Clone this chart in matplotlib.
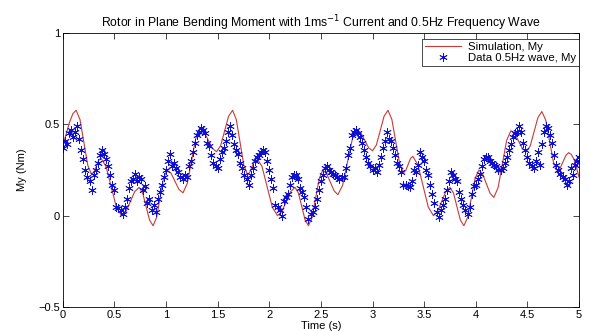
import matplotlib
matplotlib.use('Agg')
import matplotlib.pyplot as plt
import numpy as np

plt.rcParams['font.family'] = ['Liberation Sans', 'DejaVu Sans']

# simulation curve
sim_t = [0.00, 0.03, 0.065, 0.10,
         0.13, 0.1675, 0.205, 0.2425,
         0.28, 0.3025, 0.325, 0.3475,
         0.37, 0.42, 0.47, 0.52,
         0.57, 0.6125, 0.655, 0.6975,
         0.74, 0.774, 0.8075, 0.841,
         0.875, 0.909, 0.9425, 0.976,
         1.01, 1.049, 1.0875, 1.126,
         1.165, 1.206, 1.2475, 1.289,
         1.33, 1.37, 1.41, 1.45,
         1.49, 1.529, 1.5675, 1.606,
         1.645, 1.681, 1.7175, 1.754,
         1.79, 1.8125, 1.835, 1.8575,
         1.88, 1.93, 1.98, 2.03,
         2.08, 2.1225, 2.165, 2.2075,
         2.25, 2.2825, 2.315, 2.3475,
         2.38, 2.415, 2.45, 2.485,
         2.52, 2.556, 2.5925, 2.629,
         2.665, 2.711, 2.7575, 2.804,
         2.85, 2.8875, 2.925, 2.9625,
         3.00, 3.0375, 3.075, 3.1125,
         3.15, 3.1875, 3.225, 3.2625,
         3.30, 3.3225, 3.345, 3.3675,
         3.39, 3.44, 3.49, 3.54,
         3.59, 3.63, 3.67, 3.71,
         3.75, 3.784, 3.8175, 3.851,
         3.885, 3.921, 3.9575, 3.994,
         4.03, 4.066, 4.1025, 4.139,
         4.175, 4.216, 4.2575, 4.299,
         4.34, 4.3775, 4.415, 4.4525,
         4.49, 4.5275, 4.565, 4.6025,
         4.64, 4.6775, 4.715, 4.7525,
         4.79, 4.8175, 4.845, 4.8725,
         4.90, 4.925, 4.95, 4.975, 5.00]
sim_y = [0.385, 0.44, 0.51, 0.56,
         0.577, 0.526, 0.401, 0.276,
         0.225, 0.238, 0.27, 0.302,
         0.315, 0.269, 0.158, 0.046,
         0.0, 0.023, 0.078, 0.132,
         0.155, 0.124, 0.05, -0.024,
         -0.055, -0.010, 0.0975, 0.205,
         0.25, 0.232, 0.1875, 0.143,
         0.125, 0.176, 0.30, 0.424,
         0.475, 0.457, 0.4125, 0.368,
         0.35, 0.383, 0.4635, 0.544,
         0.577, 0.526, 0.401, 0.276,
         0.225, 0.238, 0.27, 0.302,
         0.315, 0.269, 0.158, 0.046,
         0.0, 0.023, 0.078, 0.132,
         0.155, 0.124, 0.05, -0.024,
         -0.055, -0.010, 0.0975, 0.205,
         0.25, 0.230, 0.1825, 0.135,
         0.115, 0.167, 0.2925, 0.418,
         0.47, 0.453, 0.4125, 0.372,
         0.355, 0.387, 0.466, 0.545,
         0.577, 0.527, 0.406, 0.285,
         0.235, 0.248, 0.28, 0.312,
         0.325, 0.278, 0.1625, 0.047,
         0.0, 0.023, 0.078, 0.132,
         0.155, 0.124, 0.05, -0.024,
         -0.055, -0.010, 0.0975, 0.205,
         0.25, 0.228, 0.175, 0.122,
         0.10, 0.153, 0.2825, 0.412,
         0.465, 0.448, 0.4075, 0.367,
         0.35, 0.382, 0.46, 0.538,
         0.57, 0.523, 0.4075, 0.292,
         0.245, 0.260, 0.295, 0.330,
         0.345, 0.335, 0.31, 0.265, 0.21]

# measured data, sampled every 0.02 s
data_dt = 0.02
data_y = [0.37, 0.41, 0.39, 0.45, 0.47, 0.43, 0.46, 0.49, 0.42, 0.36,
          0.31, 0.25, 0.21, 0.19, 0.14, 0.22, 0.25, 0.29, 0.33, 0.36,
          0.34, 0.31, 0.27, 0.22, 0.17, 0.14, 0.05, 0.04, 0.03, 0.01,
          0.05, 0.09, 0.15, 0.19, 0.20, 0.23, 0.19, 0.21, 0.20, 0.14,
          0.16, 0.07, 0.09, 0.03, 0.06, 0.02, 0.09, 0.13, 0.17, 0.21,
          0.25, 0.30, 0.34, 0.27, 0.29, 0.26, 0.24, 0.21, 0.20, 0.22,
          0.21, 0.27, 0.30, 0.35, 0.40, 0.44, 0.46, 0.48, 0.47, 0.45,
          0.40, 0.38, 0.33, 0.29, 0.27, 0.26, 0.31, 0.35, 0.37, 0.41,
          0.46, 0.49, 0.44, 0.39, 0.36, 0.34, 0.29, 0.26, 0.22, 0.20,
          0.17, 0.22, 0.26, 0.30, 0.32, 0.33, 0.35, 0.36, 0.35, 0.30,
          0.25, 0.20, 0.15, 0.06, 0.05, 0.03, 0.00, 0.08, 0.10, 0.12,
          0.17, 0.21, 0.22, 0.22, 0.20, 0.15, 0.13, 0.10, 0.05, -0.02,
          0.01, 0.02, 0.05, 0.09, 0.14, 0.19, 0.22, 0.26, 0.27, 0.25,
          0.24, 0.23, 0.22, 0.21, 0.20, 0.21, 0.21, 0.26, 0.33, 0.37,
          0.44, 0.46, 0.47, 0.45, 0.43, 0.40, 0.36, 0.32, 0.29, 0.27,
          0.25, 0.26, 0.24, 0.28, 0.32, 0.37, 0.41, 0.46, 0.42, 0.41,
          0.37, 0.33, 0.29, 0.27, 0.24, 0.17, 0.17, 0.16, 0.155, 0.19,
          0.25, 0.24, 0.28, 0.35, 0.32, 0.30, 0.25, 0.22, 0.17, 0.12,
          0.07, 0.02, -0.01, 0.03, 0.06, 0.09, 0.14, 0.19, 0.24, 0.22,
          0.20, 0.19, 0.13, 0.09, 0.06, 0.03, 0.01, 0.05, 0.12, 0.16,
          0.17, 0.20, 0.23, 0.27, 0.31, 0.32, 0.32, 0.30, 0.29, 0.28,
          0.27, 0.25, 0.25, 0.26, 0.29, 0.32, 0.36, 0.39, 0.43, 0.45,
          0.46, 0.49, 0.46, 0.40, 0.36, 0.32, 0.29, 0.27, 0.26, 0.30,
          0.35, 0.28, 0.39, 0.46, 0.49, 0.48, 0.44, 0.40, 0.33, 0.28,
          0.25, 0.23, 0.21, 0.20, 0.17, 0.19, 0.26, 0.22, 0.28, 0.30,
          0.32]
data_t = np.arange(len(data_y)) * data_dt

xticks = [0, 0.5, 1, 1.5, 2, 2.5, 3, 3.5, 4, 4.5, 5]
xtick_labels = ['0', '0.5', '1', '1.5', '2', '2.5', '3', '3.5', '4', '4.5', '5']
yticks = [-0.5, 0, 0.5, 1]
ytick_labels = ['\u22120.5', '0', '0.5', '1']

fig = plt.figure(figsize=(5.9, 3.31), dpi=100)
ax = fig.add_axes([0.1063, 0.0725, 0.8751, 0.8278])

ax.plot(sim_t, sim_y, color='#c83a36', lw=0.8, label='Simulation, My')
ax.plot(data_t, data_y, ls='none', marker=(6, 2, 0), ms=6, mew=0.6,
        color='#1010d0', label='Data 0.5Hz wave, My')

ax.set_xlim(0, 5)
ax.set_ylim(-0.5, 1)
ax.set_xticks(xticks)
ax.set_xticklabels(xtick_labels)
ax.set_yticks(yticks)
ax.set_yticklabels(ytick_labels)
ax.tick_params(direction='in', length=4, width=0.5, top=True, right=True,
               labelsize=8, pad=2)
for s in ax.spines.values():
    s.set_linewidth(0.6)

ax.set_title('Rotor in Plane Bending Moment with 1ms$^{-1}$ Current and 0.5Hz Frequency Wave',
             fontsize=8.8, pad=4)
ax.set_xlabel('Time (s)', fontsize=8, labelpad=1)
ax.set_ylabel('My (Nm)', fontsize=8, labelpad=8)

leg = ax.legend(loc='upper right', bbox_to_anchor=(1.0, 1 - 6 / 274), borderaxespad=0,
                fontsize=8.2, numpoints=1, handlelength=3.2, handletextpad=0.6,
                borderpad=0.25, labelspacing=0.1, fancybox=False, framealpha=1)
leg.get_frame().set_edgecolor('black')
leg.get_frame().set_linewidth(0.5)

fig.savefig('out.png', dpi=100)
